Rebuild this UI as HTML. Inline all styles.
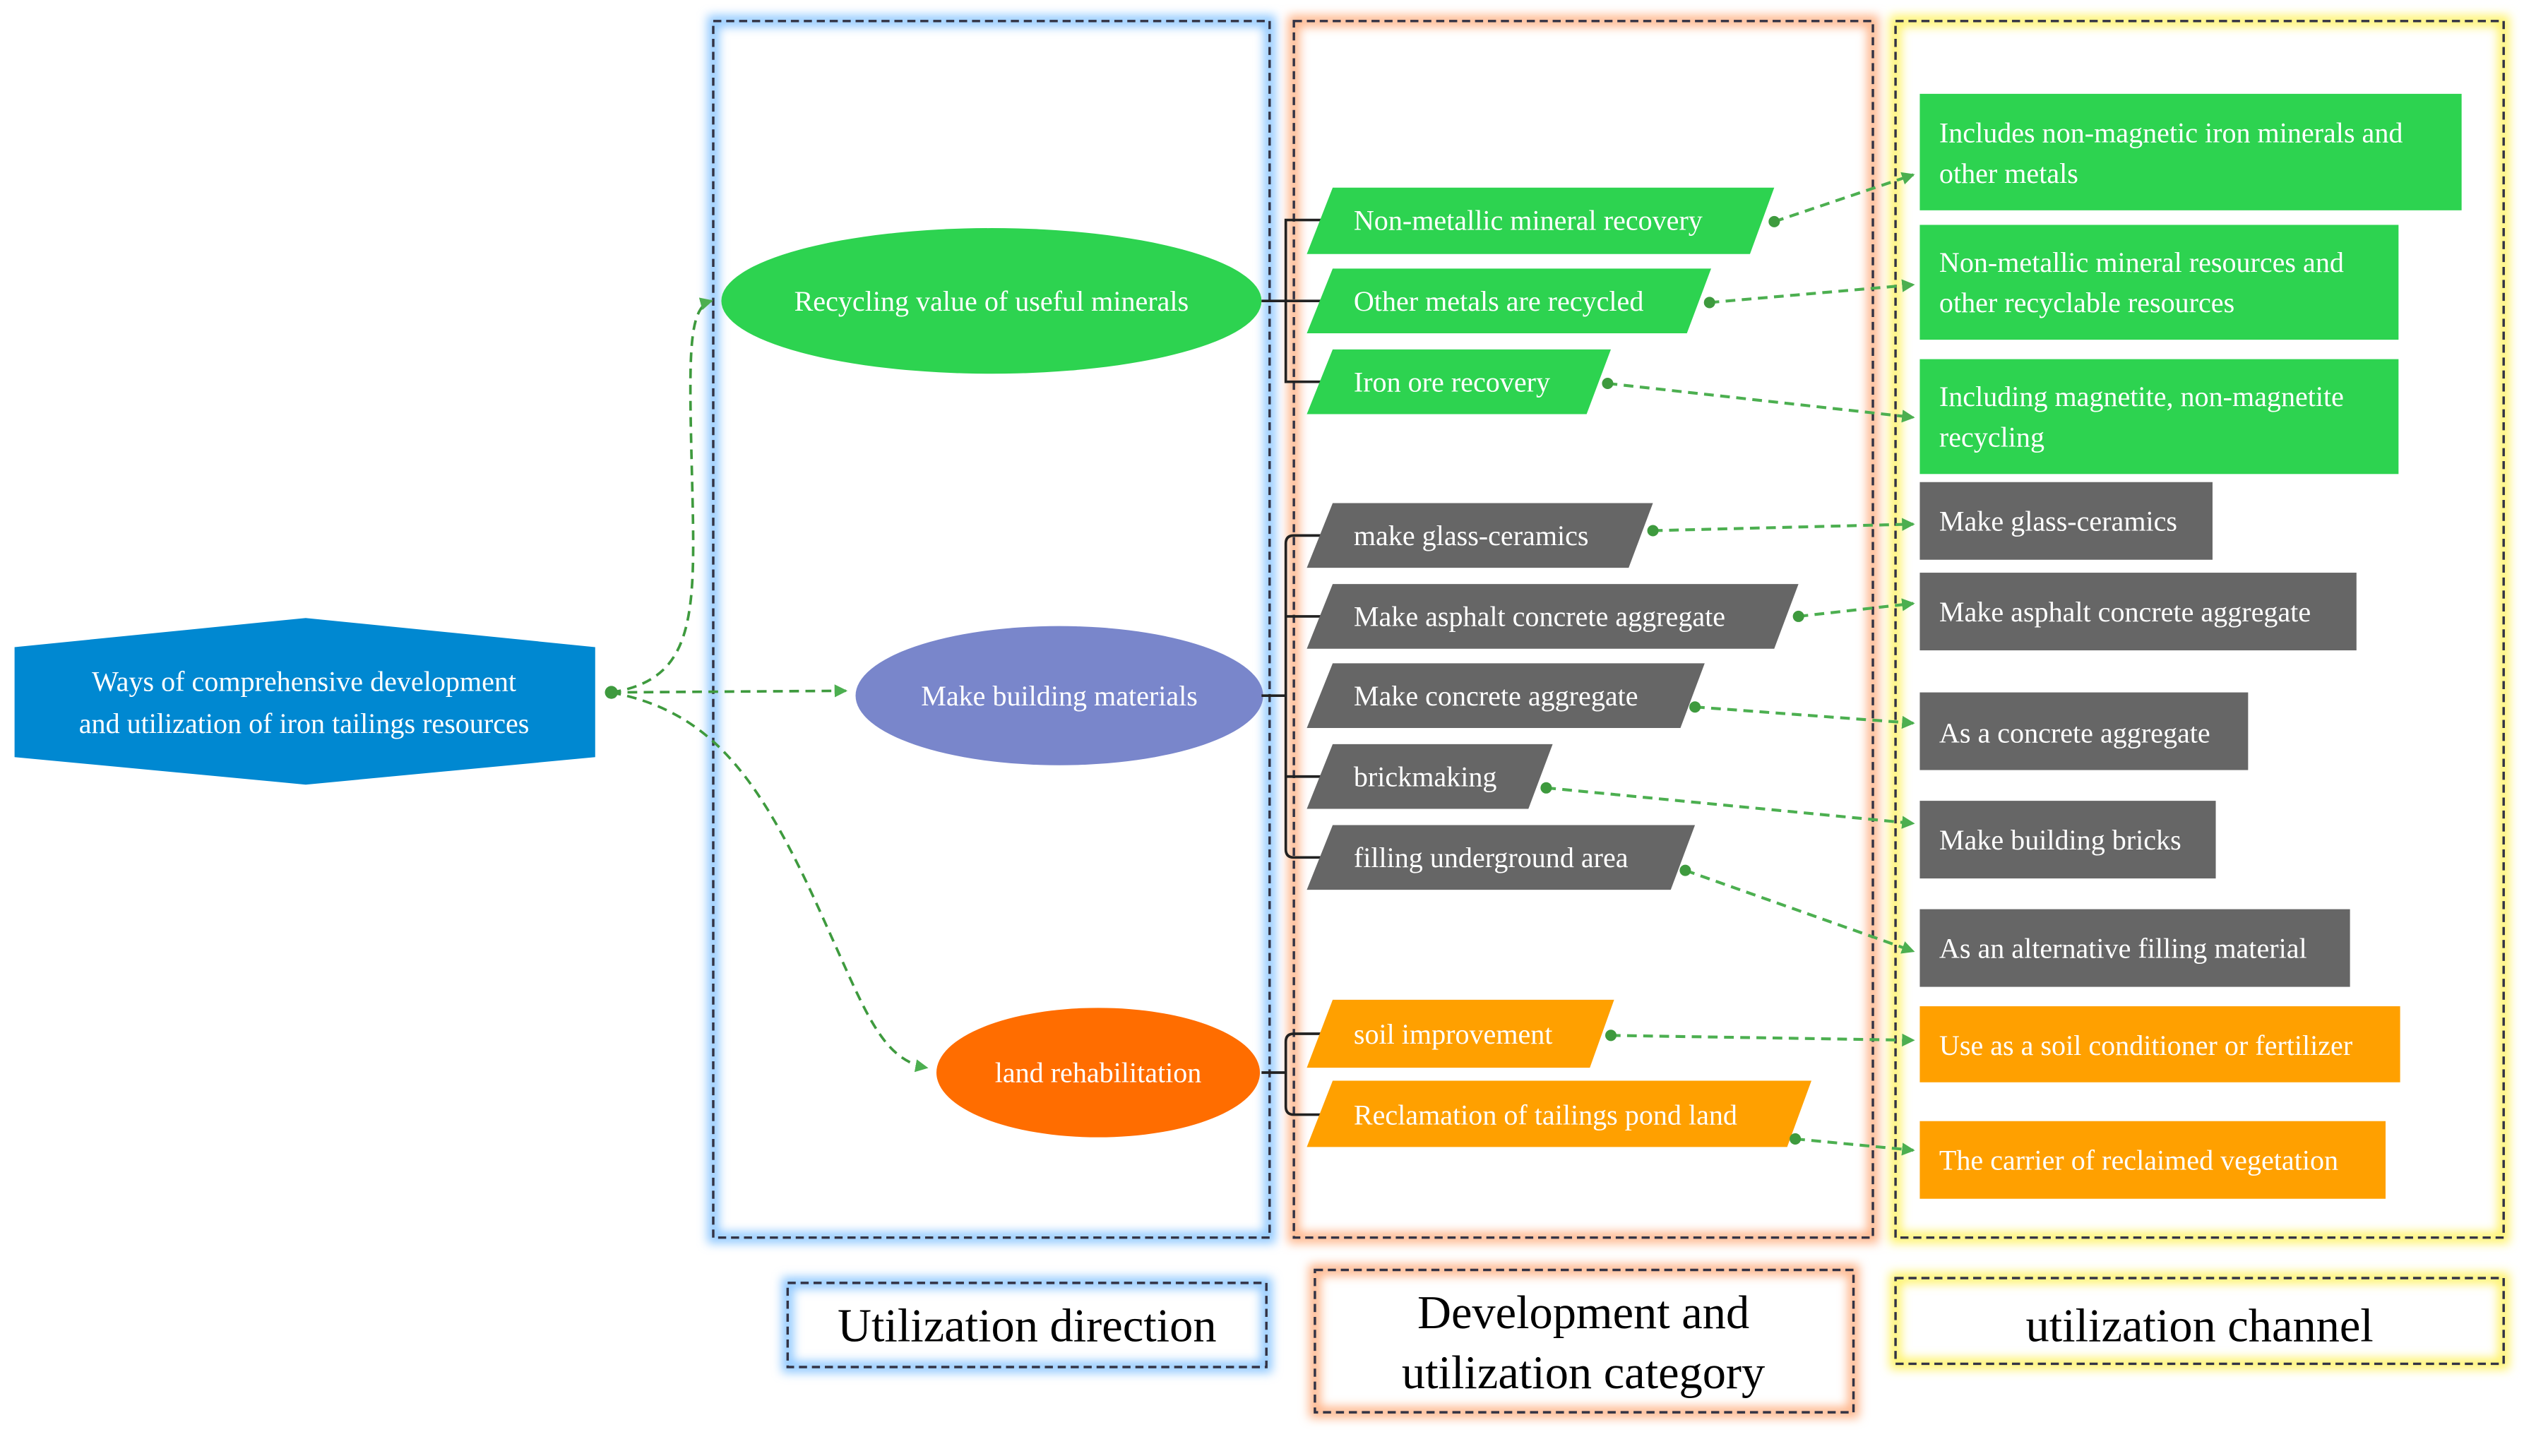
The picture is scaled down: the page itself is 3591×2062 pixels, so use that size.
<!DOCTYPE html>
<html><head><meta charset="utf-8"><style>
html,body{margin:0;padding:0;background:#fff}
svg{display:block}
</style></head><body>
<svg width="3591" height="2062" viewBox="0 0 1568 900" preserveAspectRatio="none" xmlns="http://www.w3.org/2000/svg" font-family="'Liberation Serif', 'Times New Roman', serif">
<defs>
<filter id="g" x="-10%" y="-10%" width="120%" height="120%"><feGaussianBlur stdDeviation="3"/></filter>
<marker id="ar" markerWidth="8" markerHeight="8" refX="7" refY="4" orient="auto" markerUnits="userSpaceOnUse"><path d="M0,0 L8,4 L0,8 z" fill="#4caf50"/></marker>
</defs>
<g filter="url(#g)" fill="none" stroke-width="7">
<rect x="441" y="13" width="344" height="752" stroke="#8ec8ff"/>
<rect x="800" y="13" width="358" height="752" stroke="#ffb58a"/>
<rect x="1172" y="13" width="376" height="752" stroke="#fff36a"/>
<rect x="487" y="793" width="296" height="52" stroke="#8ec8ff"/>
<rect x="813" y="785" width="333" height="88" stroke="#ffb58a"/>
<rect x="1172" y="790" width="376" height="53" stroke="#fff36a"/>
</g>
<g fill="none" stroke="#334" stroke-width="1.5" stroke-dasharray="5,3">
<rect x="441" y="13" width="344" height="752"/>
<rect x="800" y="13" width="358" height="752"/>
<rect x="1172" y="13" width="376" height="752"/>
<rect x="487" y="793" width="296" height="52"/>
<rect x="813" y="785" width="333" height="88"/>
<rect x="1172" y="790" width="376" height="53"/>
</g>
<g font-size="29" fill="#000" text-anchor="middle" font-family="'Liberation Serif', serif">
<text x="635" y="829">Utilization direction</text>
<text x="979" y="821">Development and</text>
<text x="979" y="858">utilization category</text>
<text x="1360" y="829">utilization channel</text>
</g>
<polygon points="189,382 368,400 368,468 189,485 9,468 9,400" fill="#0088d1"/>
<g font-size="17.5" fill="#fff" text-anchor="middle" font-family="'Liberation Serif', serif">
<text x="188" y="427">Ways of comprehensive development</text>
<text x="188" y="453">and utilization of iron tailings resources</text>
</g>
<g fill="none" stroke="#3e9a3e" stroke-width="1.6" stroke-dasharray="6,4" marker-end="url(#ar)">
<path d="M378,428 C430,420 430,380 428,300 C426,220 425,190 440,186"/>
<path d="M378,428 L523,427"/>
<path d="M378,428 C440,440 470,480 510,570 C535,625 545,655 573,660"/>
</g>
<circle cx="378" cy="428" r="4" fill="#3e9a3e"/>
<ellipse cx="613" cy="186" rx="167" ry="45" fill="#2dd350"/>
<ellipse cx="655" cy="430" rx="126" ry="43" fill="#7986cb"/>
<ellipse cx="679" cy="663" rx="100" ry="40" fill="#ff6d00"/>
<g font-size="17.5" fill="#fff" text-anchor="middle" font-family="'Liberation Serif', serif">
<text x="613" y="192">Recycling value of useful minerals</text>
<text x="655" y="436">Make building materials</text>
<text x="679" y="669">land rehabilitation</text>
</g>
<g fill="none" stroke="#222" stroke-width="1.6">
<path d="M780,186 H795 M820,136 H795 V236 H820 M795,186 H820"/>
<path d="M780,430 H795 M820,331 H800 Q795,331 795,336 V525 Q795,530 800,530 H820 M795,381 H820 M795,480 H820"/>
<path d="M780,663 H795 M820,639 H800 Q795,639 795,644 V684 Q795,689 800,689 H820"/>
</g>
<g>
<polygon points="824,116 1097,116 1082,157 808,157" fill="#2dd350"/>
<polygon points="824,166 1058,166 1043,206 808,206" fill="#2dd350"/>
<polygon points="824,216 996,216 981,256 808,256" fill="#2dd350"/>
<polygon points="824,311 1022,311 1007,351 808,351" fill="#666"/>
<polygon points="824,361 1112,361 1097,401 808,401" fill="#666"/>
<polygon points="824,410 1054,410 1039,450 808,450" fill="#666"/>
<polygon points="824,460 960,460 945,500 808,500" fill="#666"/>
<polygon points="824,510 1048,510 1033,550 808,550" fill="#666"/>
<polygon points="824,618 998,618 983,660 808,660" fill="#ffa000"/>
<polygon points="824,668 1120,668 1105,709 808,709" fill="#ffa000"/>
</g>
<g font-size="17.5" fill="#fff" font-family="'Liberation Serif', serif">
<text x="837" y="142">Non-metallic mineral recovery</text>
<text x="837" y="192">Other metals are recycled</text>
<text x="837" y="242">Iron ore recovery</text>
<text x="837" y="337">make glass-ceramics</text>
<text x="837" y="387">Make asphalt concrete aggregate</text>
<text x="837" y="436">Make concrete aggregate</text>
<text x="837" y="486">brickmaking</text>
<text x="837" y="536">filling underground area</text>
<text x="837" y="645">soil improvement</text>
<text x="837" y="695">Reclamation of tailings pond land</text>
</g>
<g>
<rect x="1187" y="58" width="335" height="72" fill="#2dd350"/>
<rect x="1187" y="139" width="296" height="71" fill="#2dd350"/>
<rect x="1187" y="222" width="296" height="71" fill="#2dd350"/>
<rect x="1187" y="298" width="181" height="48" fill="#666"/>
<rect x="1187" y="354" width="270" height="48" fill="#666"/>
<rect x="1187" y="428" width="203" height="48" fill="#666"/>
<rect x="1187" y="495" width="183" height="48" fill="#666"/>
<rect x="1187" y="562" width="266" height="48" fill="#666"/>
<rect x="1187" y="622" width="297" height="47" fill="#ffa000"/>
<rect x="1187" y="693" width="288" height="48" fill="#ffa000"/>
</g>
<g font-size="17.5" fill="#fff" font-family="'Liberation Serif', serif">
<text x="1199" y="88">Includes non-magnetic iron minerals and</text>
<text x="1199" y="113">other metals</text>
<text x="1199" y="168">Non-metallic mineral resources and</text>
<text x="1199" y="193">other recyclable resources</text>
<text x="1199" y="251">Including magnetite, non-magnetite</text>
<text x="1199" y="276">recycling</text>
<text x="1199" y="328">Make glass-ceramics</text>
<text x="1199" y="384">Make asphalt concrete aggregate</text>
<text x="1199" y="459">As a concrete aggregate</text>
<text x="1199" y="525">Make building bricks</text>
<text x="1199" y="592">As an alternative filling material</text>
<text x="1199" y="652">Use as a soil conditioner or fertilizer</text>
<text x="1199" y="723">The carrier of reclaimed vegetation</text>
</g>
<g fill="none" stroke="#4caf50" stroke-width="1.8" stroke-dasharray="6,4" marker-end="url(#ar)">
<path d="M1097,137 L1183,108"/>
<path d="M1057,187 L1183,176"/>
<path d="M994,237 L1183,258"/>
<path d="M1022,328 L1183,324"/>
<path d="M1112,381 L1183,373"/>
<path d="M1048,437 L1183,447"/>
<path d="M956,487 L1183,509"/>
<path d="M1042,538 L1183,588"/>
<path d="M996,640 L1183,643"/>
<path d="M1110,704 L1183,711"/>
</g>
<g fill="#3e9a3e">
<circle cx="1097" cy="137" r="3.5"/><circle cx="1057" cy="187" r="3.5"/><circle cx="994" cy="237" r="3.5"/>
<circle cx="1022" cy="328" r="3.5"/><circle cx="1112" cy="381" r="3.5"/><circle cx="1048" cy="437" r="3.5"/>
<circle cx="956" cy="487" r="3.5"/><circle cx="1042" cy="538" r="3.5"/><circle cx="996" cy="640" r="3.5"/>
<circle cx="1110" cy="704" r="3.5"/>
</g>
</svg>
</body></html>
